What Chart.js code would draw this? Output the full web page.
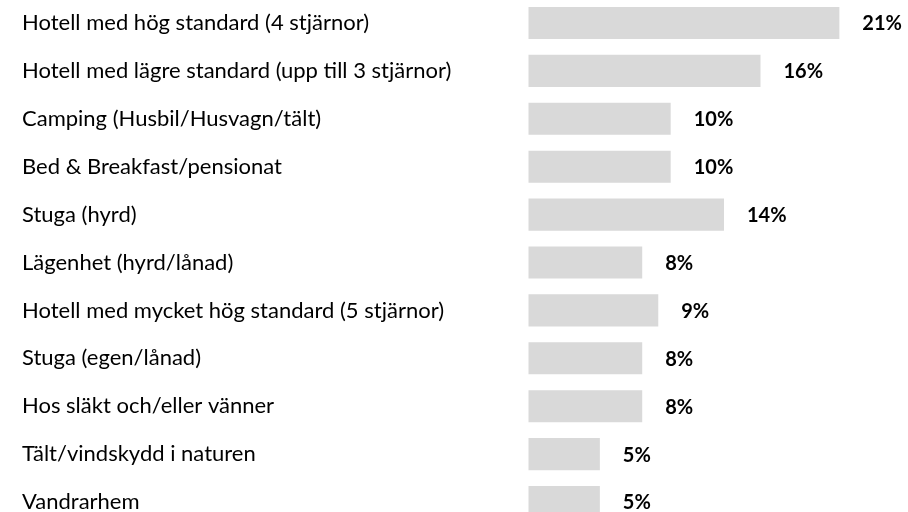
<!DOCTYPE html>
<html>
<head>
<meta charset="utf-8">
<script src="https://cdn.jsdelivr.net/npm/chart.js@4"></script>
<style>
  html,body{margin:0;padding:0;background:#fff;overflow:hidden;}
  #wrap{position:absolute;left:0;top:-1px;width:908px;height:527px;}
</style>
</head>
<body>
<div id="wrap"><canvas id="c"></canvas></div>
<script>
// Boende under resan — andel (%)
const categories = [
  "Hotell med hög standard (4 stjärnor)",
  "Hotell med lägre standard (upp till 3 stjärnor)",
  "Camping (Husbil/Husvagn/tält)",
  "Bed & Breakfast/pensionat",
  "Stuga (hyrd)",
  "Lägenhet (hyrd/lånad)",
  "Hotell med mycket hög standard (5 stjärnor)",
  "Stuga (egen/lånad)",
  "Hos släkt och/eller vänner",
  "Tält/vindskydd i naturen",
  "Vandrarhem"
];
// bar lengths
const shares = [21.3, 15.9, 9.75, 9.75, 13.4, 7.8, 8.9, 7.8, 7.8, 4.9, 4.9];
// printed labels
const shareLabels = ["21%","16%","10%","10%","14%","8%","9%","8%","8%","5%","5%"];

const FONT = "Lato, sans-serif";

const valueLabels = {
  id: "valueLabels",
  afterDatasetsDraw(chart){
    const ctx = chart.ctx;
    const meta = chart.getDatasetMeta(0);
    ctx.save();
    ctx.font = "bold 20px " + FONT;
    ctx.fillStyle = "#000";
    ctx.textAlign = "left";
    ctx.textBaseline = "middle";
    meta.data.forEach((bar,i)=>{
      ctx.fillText(shareLabels[i], bar.x + 23, bar.y + 1);
    });
    ctx.restore();
  }
};

new Chart(document.getElementById("c"), {
  type: "bar",
  data: {
    labels: categories,
    datasets: [{
      data: shares,
      backgroundColor: "#d9d9d9",
      borderWidth: 0,
      categoryPercentage: 1,
      barPercentage: 0.67
    }]
  },
  options: {
    indexAxis: "y",
    responsive: true,
    maintainAspectRatio: false,
    animation: false,
    layout: { padding: { left: 22, right: 0, top: 0, bottom: 0 } },
    plugins: { legend: { display: false }, tooltip: { enabled: false } },
    scales: {
      x: { display: false, min: 0, max: 26 },
      y: {
        grid: { display: false },
        border: { display: false },
        ticks: {
          crossAlign: "far",
          color: "#000",
          font: { family: FONT, size: 22 }
        },
        afterFit(scale){
          scale.width = 506.3;
          scale.paddingTop = 0;
          scale.paddingBottom = 0;
        }
      }
    }
  },
  plugins: [valueLabels]
});
</script>
</body>
</html>
